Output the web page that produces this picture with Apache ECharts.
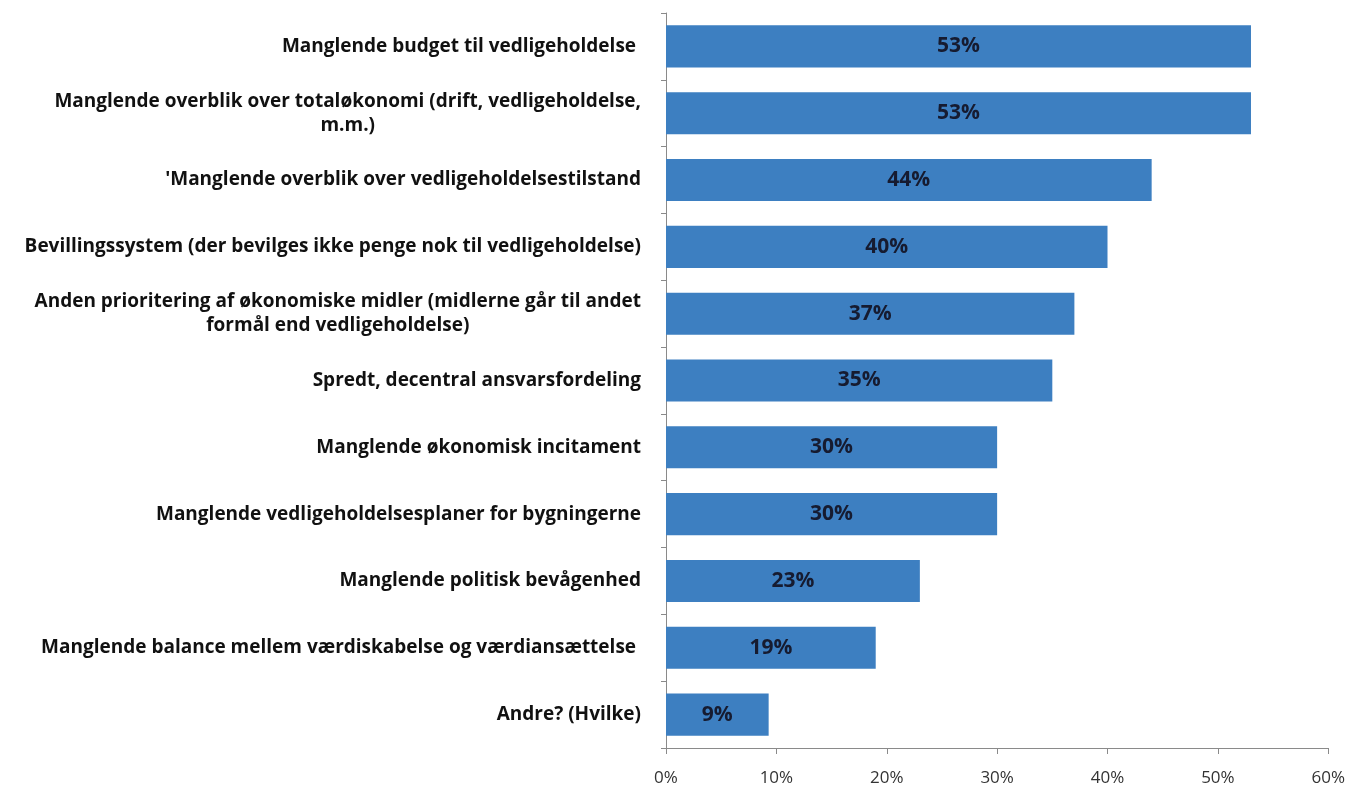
<!DOCTYPE html>
<html>
<head>
<meta charset="utf-8">
<script src="https://cdn.jsdelivr.net/npm/echarts@6/dist/echarts.min.js"></script>
<style>
  html, body { margin: 0; padding: 0; background: #fff; }
  #chart { width: 1348px; height: 788px; }
</style>
</head>
<body>
<div id="chart"></div>
<script>
var categories = [
  "Manglende budget til vedligeholdelse ",
  "Manglende overblik over totaløkonomi (drift, vedligeholdelse,\nm.m.)",
  "'Manglende overblik over vedligeholdelsestilstand",
  "Bevillingssystem (der bevilges ikke penge nok til vedligeholdelse)",
  "Anden prioritering af økonomiske midler (midlerne går til andet\nformål end vedligeholdelse)",
  "Spredt, decentral ansvarsfordeling",
  "Manglende økonomisk incitament",
  "Manglende vedligeholdelsesplaner for bygningerne",
  "Manglende politisk bevågenhed",
  "Manglende balance mellem værdiskabelse og værdiansættelse ",
  "Andre? (Hvilke)"
];
var values = [53, 53, 44, 40, 37, 35, 30, 30, 23, 19, 9.3];
var xTicks = [0, 10, 20, 30, 40, 50, 60];

var chart = echarts.init(document.getElementById('chart'));
var FONT = 'Open Sans';
chart.setOption({
  animation: false,
  backgroundColor: '#ffffff',
  grid: { left: 666, right: 12, top: 13, bottom: 40, containLabel: false },
  xAxis: {
    type: 'value',
    min: xTicks[0],
    max: xTicks[xTicks.length - 1],
    interval: 10,
    splitLine: { show: false },
    axisLine: { show: true, lineStyle: { color: '#8a8a8a', width: 1 } },
    axisTick: { show: true, length: 6, lineStyle: { color: '#8a8a8a' } },
    axisLabel: {
      margin: 22,
      fontFamily: FONT,
      fontSize: 17,
      color: '#333',
      formatter: function (v) { return v + '%'; }
    }
  },
  yAxis: {
    type: 'category',
    inverse: true,
    data: categories,
    axisLine: { show: true, lineStyle: { color: '#8a8a8a', width: 1 } },
    axisTick: { show: true, length: 5, lineStyle: { color: '#8a8a8a' } },
    axisLabel: {
      margin: 25,
      align: 'right',
      formatter: function (v) {
        return v.split('\n').map(function (l) { return '{c|' + l + '}'; }).join('\n');
      },
      rich: {
        c: {
          align: 'center',
          fontFamily: FONT,
          fontWeight: 'bold',
          fontSize: 19,
          lineHeight: 24,
          color: '#111'
        }
      }
    }
  },
  series: [{
    type: 'bar',
    data: values,
    barCategoryGap: '37%',
    itemStyle: { color: '#3d7fc1' },
    label: {
      show: true,
      position: 'inside',
      fontFamily: FONT,
      fontWeight: 'bold',
      fontSize: 21,
      color: '#161b30',
      formatter: function (p) { return Math.round(p.value) + '%'; }
    }
  }]
});
</script>
</body>
</html>
